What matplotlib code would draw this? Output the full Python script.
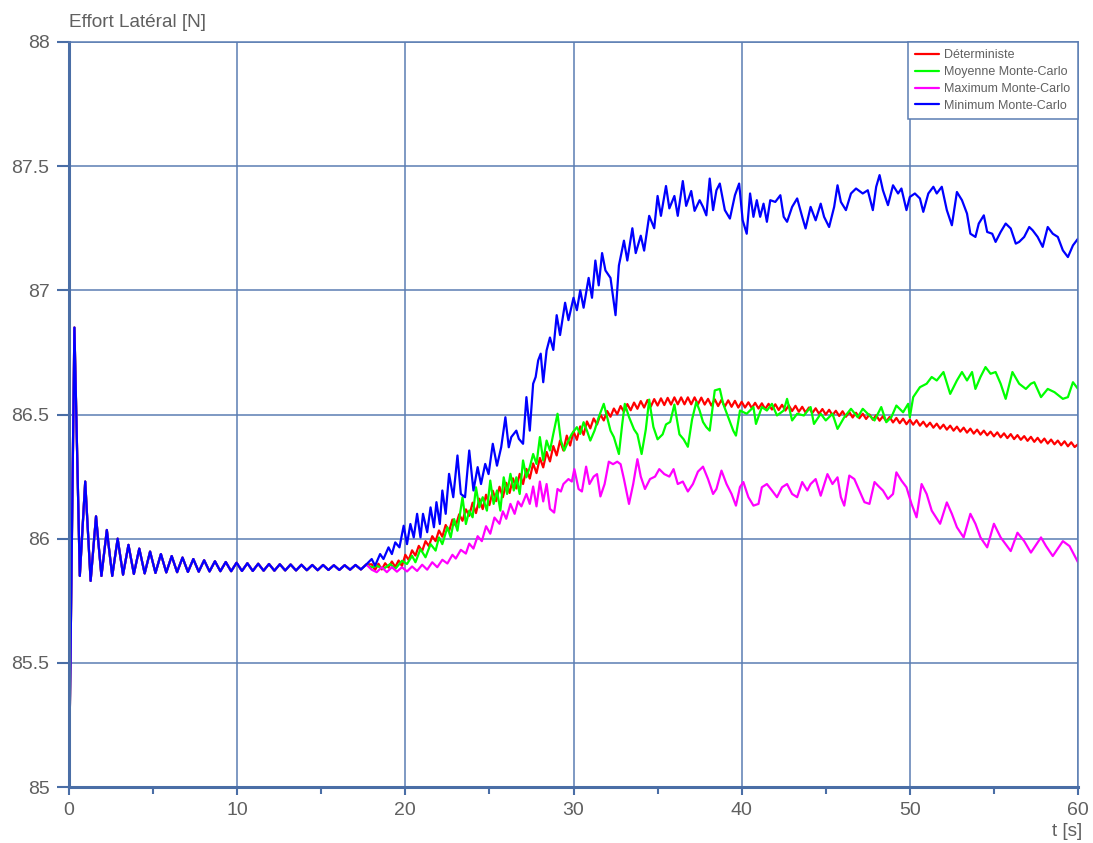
import numpy as np
import matplotlib.pyplot as plt
from matplotlib.ticker import MultipleLocator, FormatStrFormatter

plt.rcParams['font.family'] = ['Liberation Sans', 'DejaVu Sans']

# regime transitoire commun aux quatre courbes (0 - 18 s)
y_transitoire = [
    85.02, 86.85, 85.85, 86.23, 85.83, 86.09, 85.85, 86.035, 85.85, 86.0,
    85.855, 85.975, 85.858, 85.96, 85.86, 85.948, 85.862, 85.938, 85.864, 85.93,
    85.865, 85.924, 85.866, 85.918, 85.867, 85.913, 85.868, 85.909, 85.869, 85.906,
    85.869, 85.903, 85.87, 85.901, 85.87, 85.899, 85.871, 85.898, 85.871, 85.897,
    85.872, 85.896, 85.872, 85.895, 85.873, 85.894, 85.873, 85.894, 85.874, 85.893,
    85.874, 85.893, 85.875, 85.894, 85.876, 85.896, 85.88,
]

# deterministe, pas de 0.2 s de 18 a 60 s
y_deter = [
    85.897, 85.874, 85.899, 85.876, 85.901, 85.884, 85.908, 85.886, 85.912, 85.890,
    85.935, 85.914, 85.953, 85.932, 85.971, 85.950, 85.990, 85.970, 86.010, 85.990,
    86.033, 86.008, 86.055, 86.030, 86.077, 86.052, 86.098, 86.072, 86.118, 86.092,
    86.145, 86.103, 86.161, 86.119, 86.177, 86.135, 86.193, 86.151, 86.209, 86.167,
    86.225, 86.184, 86.243, 86.202, 86.261, 86.220, 86.281, 86.242, 86.303, 86.264,
    86.325, 86.287, 86.349, 86.311, 86.373, 86.335, 86.395, 86.355, 86.415, 86.375,
    86.432, 86.398, 86.452, 86.418, 86.472, 86.444, 86.484, 86.460, 86.500, 86.476,
    86.514, 86.491, 86.524, 86.501, 86.534, 86.511, 86.542, 86.517, 86.548, 86.523,
    86.554, 86.528, 86.558, 86.532, 86.562, 86.536, 86.565, 86.538, 86.567, 86.540,
    86.569, 86.541, 86.569, 86.541, 86.569, 86.541, 86.569, 86.541, 86.568, 86.540,
    86.563, 86.536, 86.561, 86.534, 86.559, 86.532, 86.557, 86.531, 86.555, 86.528,
    86.551, 86.528, 86.549, 86.526, 86.547, 86.524, 86.545, 86.522, 86.543, 86.520,
    86.541, 86.518, 86.539, 86.516, 86.537, 86.514, 86.535, 86.511, 86.531, 86.508,
    86.528, 86.506, 86.525, 86.503, 86.522, 86.500, 86.519, 86.497, 86.515, 86.494,
    86.513, 86.491, 86.510, 86.488, 86.507, 86.485, 86.503, 86.482, 86.500, 86.479,
    86.497, 86.475, 86.493, 86.472, 86.490, 86.468, 86.486, 86.465, 86.483, 86.461,
    86.479, 86.459, 86.477, 86.455, 86.471, 86.451, 86.467, 86.447, 86.463, 86.443,
    86.459, 86.439, 86.455, 86.435, 86.451, 86.431, 86.447, 86.427, 86.443, 86.423,
    86.439, 86.419, 86.435, 86.416, 86.431, 86.412, 86.428, 86.408, 86.424, 86.405,
    86.421, 86.401, 86.417, 86.398, 86.413, 86.394, 86.410, 86.390, 86.406, 86.387,
    86.403, 86.383, 86.399, 86.380, 86.395, 86.376, 86.392, 86.372, 86.388, 86.369,
    86.380,
]

t_moy = [
    18.0, 18.3, 18.7, 19.1, 19.4, 19.8, 20.1, 20.4, 20.6, 20.9,
    21.2, 21.5, 21.8, 22.0, 22.2, 22.5, 22.7, 22.9, 23.1, 23.4,
    23.6, 23.8, 24.0, 24.2, 24.4, 24.6, 24.85, 25.05, 25.25, 25.45,
    25.65, 25.85, 26.05, 26.25, 26.45, 26.6, 26.8, 27.0, 27.2, 27.4,
    27.6, 27.8, 28.0, 28.2, 28.4, 28.6, 28.8, 29.05, 29.25, 29.45,
    29.7, 29.9, 30.2, 30.4, 30.6, 30.8, 31.0, 31.25, 31.5, 31.8,
    32.0, 32.2, 32.4, 32.7, 32.9, 33.05, 33.3, 33.6, 33.8, 34.05,
    34.3, 34.5, 34.75, 35.0, 35.3, 35.5, 35.75, 36.0, 36.3, 36.55,
    36.8, 37.05, 37.3, 37.5, 37.7, 37.9, 38.1, 38.4, 38.7, 38.9,
    39.2, 39.5, 39.66, 39.9, 40.3, 40.7, 40.85, 41.2, 41.5, 41.8,
    42.1, 42.5, 42.7, 43.0, 43.3, 43.7, 44.1, 44.3, 44.7, 45.0,
    45.4, 45.7, 46.1, 46.5, 46.9, 47.2, 47.5, 47.9, 48.3, 48.6,
    48.9, 49.2, 49.6, 49.9, 50.0, 50.2, 50.6, 51.0, 51.3, 51.6,
    52.0, 52.4, 52.8, 53.1, 53.4, 53.7, 53.9, 54.2, 54.5, 54.8,
    55.1, 55.4, 55.7, 56.1, 56.5, 56.9, 57.2, 57.4, 57.8, 58.2,
    58.6, 59.1, 59.4, 59.7, 60.0,
]
y_moy = [
    85.884, 85.891, 85.878, 85.898, 85.878, 85.911, 85.898, 85.931, 85.905, 85.958,
    85.925, 85.978, 85.952, 86.005, 85.978, 86.046, 86.005, 86.079, 86.032, 86.167,
    86.059, 86.113, 86.086, 86.207, 86.126, 86.167, 86.113, 86.234, 86.140, 86.194,
    86.113, 86.247, 86.180, 86.261, 86.194, 86.247, 86.180, 86.315, 86.247, 86.288,
    86.341, 86.301, 86.409, 86.315, 86.395, 86.355, 86.422, 86.503, 86.395, 86.355,
    86.395, 86.422, 86.449, 86.422, 86.469, 86.435, 86.395, 86.435, 86.489, 86.543,
    86.489, 86.435, 86.409, 86.341, 86.463, 86.543, 86.490, 86.440, 86.420, 86.341,
    86.440, 86.560, 86.450, 86.400, 86.420, 86.460, 86.470, 86.540, 86.420, 86.400,
    86.370, 86.480, 86.550, 86.516, 86.470, 86.449, 86.435, 86.597, 86.603, 86.543,
    86.489, 86.435, 86.415, 86.516, 86.503, 86.530, 86.462, 86.530, 86.516, 86.543,
    86.496, 86.516, 86.563, 86.476, 86.503, 86.496, 86.530, 86.462, 86.503, 86.476,
    86.503, 86.442, 86.489, 86.523, 86.489, 86.523, 86.503, 86.476, 86.530, 86.469,
    86.489, 86.536, 86.509, 86.543, 86.489, 86.570, 86.610, 86.624, 86.651, 86.637,
    86.671, 86.583, 86.637, 86.671, 86.637, 86.671, 86.603, 86.651, 86.691, 86.664,
    86.671, 86.624, 86.563, 86.671, 86.624, 86.603, 86.624, 86.630, 86.570, 86.603,
    86.590, 86.563, 86.570, 86.630, 86.603,
]

t_max = [
    18.0, 18.3, 18.6, 18.9, 19.2, 19.5, 19.8, 20.1, 20.4, 20.7,
    21.0, 21.3, 21.6, 21.9, 22.2, 22.5, 22.8, 23.0, 23.3, 23.6,
    23.8, 24.05, 24.3, 24.55, 24.8, 25.05, 25.3, 25.6, 25.8, 26.0,
    26.25, 26.5, 26.7, 26.9, 27.2, 27.4, 27.6, 27.8, 28.0, 28.2,
    28.4, 28.6, 28.85, 29.05, 29.25, 29.4, 29.7, 29.9, 30.05, 30.3,
    30.5, 30.75, 30.95, 31.2, 31.4, 31.6, 31.85, 32.1, 32.35, 32.6,
    32.8, 33.0, 33.3, 33.55, 33.8, 34.0, 34.25, 34.55, 34.85, 35.1,
    35.4, 35.7, 35.95, 36.2, 36.5, 36.8, 37.1, 37.4, 37.7, 38.0,
    38.3, 38.5, 38.8, 39.1, 39.4, 39.66, 39.9, 40.1, 40.4, 40.7,
    41.0, 41.2, 41.5, 41.8, 42.1, 42.4, 42.7, 43.0, 43.3, 43.6,
    43.9, 44.1, 44.4, 44.7, 45.1, 45.4, 45.7, 45.9, 46.1, 46.4,
    46.7, 47.0, 47.3, 47.6, 47.9, 48.2, 48.4, 48.7, 49.0, 49.2,
    49.5, 49.8, 50.1, 50.4, 50.7, 51.0, 51.3, 51.8, 52.2, 52.5,
    52.8, 53.2, 53.6, 53.9, 54.2, 54.6, 55.0, 55.4, 56.0, 56.4,
    56.8, 57.2, 57.8, 58.1, 58.5, 59.1, 59.5, 60.0,
]
y_max = [
    85.875, 85.865, 85.885, 85.865, 85.885, 85.867, 85.885, 85.868, 85.888, 85.870,
    85.895, 85.875, 85.905, 85.885, 85.915, 85.900, 85.935, 85.920, 85.955, 85.940,
    85.980, 85.960, 86.010, 85.990, 86.050, 86.020, 86.085, 86.060, 86.110, 86.080,
    86.140, 86.100, 86.150, 86.130, 86.180, 86.140, 86.210, 86.130, 86.230, 86.150,
    86.220, 86.120, 86.105, 86.200, 86.190, 86.220, 86.240, 86.230, 86.280, 86.200,
    86.190, 86.290, 86.220, 86.250, 86.260, 86.170, 86.220, 86.310, 86.300, 86.310,
    86.300, 86.240, 86.140, 86.220, 86.320, 86.250, 86.200, 86.240, 86.250, 86.280,
    86.260, 86.250, 86.280, 86.220, 86.230, 86.190, 86.220, 86.270, 86.290, 86.240,
    86.180, 86.200, 86.274, 86.220, 86.180, 86.133, 86.208, 86.228, 86.167, 86.133,
    86.140, 86.207, 86.220, 86.194, 86.167, 86.207, 86.220, 86.180, 86.167, 86.228,
    86.194, 86.220, 86.240, 86.173, 86.260, 86.220, 86.247, 86.167, 86.133, 86.254,
    86.240, 86.194, 86.147, 86.140, 86.228, 86.207, 86.194, 86.160, 86.180, 86.267,
    86.234, 86.207, 86.140, 86.086, 86.220, 86.180, 86.113, 86.060, 86.146, 86.100,
    86.046, 86.005, 86.100, 86.060, 86.005, 85.965, 86.060, 86.005, 85.950, 86.024,
    85.990, 85.944, 86.005, 85.970, 85.930, 85.990, 85.970, 85.905,
]

t_min = [
    18.0, 18.2, 18.5, 18.7, 19.0, 19.2, 19.4, 19.65, 19.9, 20.1,
    20.3, 20.5, 20.7, 20.9, 21.05, 21.3, 21.5, 21.7, 21.85, 22.05,
    22.2, 22.4, 22.6, 22.85, 23.1, 23.3, 23.55, 23.8, 24.05, 24.3,
    24.5, 24.75, 24.95, 25.2, 25.45, 25.7, 25.95, 26.15, 26.3, 26.6,
    26.75, 27.0, 27.2, 27.4, 27.6, 27.75, 27.9, 28.05, 28.2, 28.4,
    28.6, 28.8, 29.0, 29.2, 29.5, 29.7, 30.0, 30.2, 30.4, 30.6,
    30.9, 31.1, 31.3, 31.5, 31.7, 31.9, 32.2, 32.5, 32.7, 33.0,
    33.2, 33.5, 33.7, 34.0, 34.2, 34.5, 34.8, 35.0, 35.2, 35.5,
    35.7, 36.0, 36.2, 36.5, 36.7, 37.0, 37.2, 37.5, 37.7, 37.9,
    38.1, 38.3, 38.5, 38.7, 39.0, 39.3, 39.6, 39.85, 40.06, 40.3,
    40.5, 40.7, 40.9, 41.1, 41.3, 41.5, 41.7, 42.0, 42.3, 42.5,
    42.7, 43.0, 43.3, 43.6, 43.8, 44.1, 44.4, 44.7, 44.9, 45.2,
    45.5, 45.7, 45.9, 46.2, 46.5, 46.8, 47.2, 47.5, 47.8, 48.0,
    48.2, 48.4, 48.7, 49.0, 49.3, 49.5, 49.8, 50.0, 50.3, 50.6,
    50.8, 51.1, 51.4, 51.6, 51.9, 52.2, 52.5, 52.8, 53.1, 53.4,
    53.6, 53.9, 54.1, 54.4, 54.6, 54.9, 55.1, 55.4, 55.7, 56.0,
    56.3, 56.5, 56.8, 57.1, 57.3, 57.6, 57.9, 58.2, 58.5, 58.8,
    59.1, 59.4, 59.7, 60.0,
]
y_min = [
    85.918, 85.891, 85.938, 85.918, 85.965, 85.938, 85.985, 85.965, 86.052, 85.978,
    86.059, 86.005, 86.100, 86.005, 86.100, 86.026, 86.126, 86.046, 86.147, 86.059,
    86.194, 86.100, 86.261, 86.167, 86.335, 86.180, 86.167, 86.355, 86.194, 86.288,
    86.220, 86.301, 86.260, 86.382, 86.294, 86.368, 86.489, 86.368, 86.409, 86.435,
    86.402, 86.382, 86.570, 86.435, 86.624, 86.651, 86.718, 86.745, 86.630, 86.758,
    86.810, 86.760, 86.900, 86.820, 86.950, 86.880, 86.970, 86.920, 87.000, 86.930,
    87.050, 86.970, 87.120, 87.020, 87.150, 87.080, 87.050, 86.900, 87.100, 87.200,
    87.120, 87.250, 87.150, 87.220, 87.160, 87.300, 87.250, 87.380, 87.300, 87.420,
    87.330, 87.380, 87.300, 87.440, 87.340, 87.400, 87.320, 87.363, 87.336, 87.302,
    87.450, 87.323, 87.403, 87.430, 87.323, 87.289, 87.383, 87.430, 87.282, 87.228,
    87.390, 87.296, 87.363, 87.296, 87.349, 87.276, 87.363, 87.356, 87.383, 87.296,
    87.276, 87.336, 87.370, 87.296, 87.249, 87.336, 87.282, 87.349, 87.296, 87.255,
    87.336, 87.423, 87.356, 87.323, 87.390, 87.410, 87.390, 87.403, 87.323, 87.417,
    87.464, 87.403, 87.343, 87.423, 87.390, 87.410, 87.323, 87.376, 87.390, 87.370,
    87.316, 87.390, 87.417, 87.390, 87.417, 87.323, 87.262, 87.396, 87.363, 87.309,
    87.228, 87.215, 87.269, 87.302, 87.235, 87.228, 87.195, 87.235, 87.269, 87.249,
    87.188, 87.195, 87.215, 87.255, 87.242, 87.215, 87.175, 87.255, 87.228, 87.215,
    87.161, 87.134, 87.181, 87.208,
]

t_trans = np.linspace(0, 18, len(y_transitoire))
t_deter = np.linspace(18, 60, len(y_deter))


def serie(t_fin, y_fin):
    t = np.concatenate([t_trans[:-1], t_fin])
    y = np.concatenate([y_transitoire[:-1], y_fin])
    return t, y


bleu_grille = '#5b7db3'
bleu_axe = '#4a6ea6'
gris = '#606060'

fig = plt.figure(figsize=(10.93, 8.43), dpi=100)
ax = fig.add_axes([69 / 1093, 1 - 787 / 843, (1078 - 69) / 1093, (787 - 42) / 843])

courbes = [
    (t_deter, y_deter, '#ff0000', 'Déterministe'),
    (t_moy, y_moy, '#00ff00', 'Moyenne Monte-Carlo'),
    (t_max, y_max, '#ff00ff', 'Maximum Monte-Carlo'),
    (t_min, y_min, '#0000ff', 'Minimum Monte-Carlo'),
]
for t_fin, y_fin, coul, nom in courbes:
    t, y = serie(t_fin, y_fin)
    ax.plot(t, y, color=coul, lw=1.6, label=nom,
            solid_joinstyle='round', solid_capstyle='round')

ax.set_xlim(0, 60)
ax.set_ylim(85, 88)
ax.xaxis.set_major_locator(MultipleLocator(10))
ax.xaxis.set_minor_locator(MultipleLocator(5))
ax.yaxis.set_major_locator(MultipleLocator(0.5))
ax.yaxis.set_major_formatter(FormatStrFormatter('%g'))

ax.grid(True, which='major', color=bleu_grille, lw=1.1)
ax.set_axisbelow(True)
for cote in ['top', 'right']:
    ax.spines[cote].set_color(bleu_grille)
    ax.spines[cote].set_linewidth(1.1)
for cote in ['left', 'bottom']:
    ax.spines[cote].set_color(bleu_axe)
    ax.spines[cote].set_linewidth(2.2)

ax.tick_params(axis='y', which='major', direction='out', length=9, width=1.5,
               color=bleu_axe, labelsize=14, labelcolor=gris, pad=5)
ax.tick_params(axis='x', which='major', direction='out', length=6, width=1.5,
               color=bleu_axe, labelsize=14, labelcolor=gris, pad=5)
ax.tick_params(axis='x', which='minor', direction='out', length=5, width=1.5,
               color=bleu_axe)

fig.text(69 / 1093, 1 - 27 / 843, 'Effort Latéral [N]', fontsize=13.7,
         color=gris, ha='left', va='baseline')
fig.text(1082 / 1093, 1 - 836 / 843, 't [s]', fontsize=13.7,
         color=gris, ha='right', va='baseline')

leg = ax.legend(loc='upper right', fontsize=9, frameon=True, fancybox=False,
                borderaxespad=0, handlelength=1.9, handletextpad=0.45,
                labelspacing=0.38, borderpad=0.6, framealpha=1)
leg.get_frame().set_edgecolor(bleu_grille)
leg.get_frame().set_linewidth(1.1)
for txt in leg.get_texts():
    txt.set_color(gris)

fig.savefig('out.png', dpi=100)
